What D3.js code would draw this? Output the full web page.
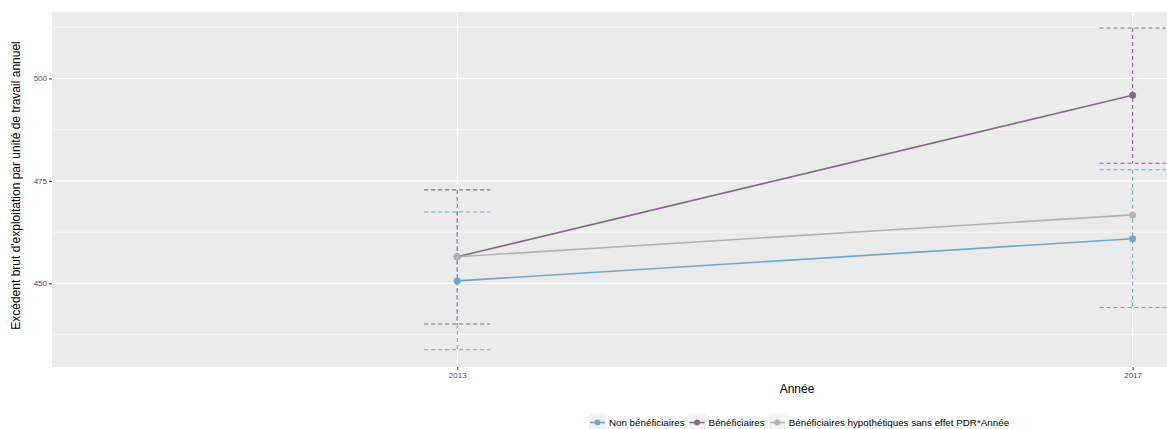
<!DOCTYPE html>
<html>
<head>
<meta charset="utf-8">
<script src="https://cdn.jsdelivr.net/npm/d3@7"></script>
<style>
  body { margin: 0; background: #fff; }
  text { font-family: "Liberation Sans", Arial, sans-serif; }
</style>
</head>
<body>
<svg id="chart" width="1167" height="429"></svg>
<script>
const years = [2013, 2017];
const seriesNames = ["Non bénéficiaires", "Bénéficiaires", "Bénéficiaires hypothétiques sans effet PDR*Année"];
const seriesColors = ["#6aa9d5", "#8c6790", "#b4b4b4"];
const nonBenef = [450.6, 460.9];
const benef = [456.5, 495.9];
const hypo = [456.5, 466.7];
// error bars (low, high) per year, for first two series
const nonBenefLow = [433.8, 444.1];
const nonBenefHigh = [467.4, 477.7];
const benefLow = [440.1, 479.3];
const benefHigh = [472.8, 512.3];
const yTicks = [450, 475, 500];
const yMinor = [437.5, 462.5, 487.5, 512.5];

const svg = d3.select("#chart");
const margin = { left: 52, top: 12, bottom: 62 };
const panelRight = 1167;
const H = 429;

const x = d3.scaleLinear().domain([2010.6, 2017.18]).range([margin.left, 1163]);
const y = d3.scaleLinear().domain([429.6, 516.2]).range([H - margin.bottom, margin.top]);

svg.append("rect")
  .attr("x", margin.left).attr("y", margin.top)
  .attr("width", panelRight - margin.left).attr("height", H - margin.bottom - margin.top)
  .attr("fill", "#ebebeb");

svg.append("clipPath").attr("id", "clip").append("rect")
  .attr("x", margin.left).attr("y", margin.top)
  .attr("width", panelRight - margin.left).attr("height", H - margin.bottom - margin.top);

const grid = svg.append("g");
grid.selectAll(".minor").data(yMinor).join("line")
  .attr("x1", margin.left).attr("x2", panelRight)
  .attr("y1", d => y(d)).attr("y2", d => y(d))
  .attr("stroke", "#fff").attr("stroke-width", 0.6);
grid.selectAll(".major").data(yTicks).join("line")
  .attr("x1", margin.left).attr("x2", panelRight)
  .attr("y1", d => y(d)).attr("y2", d => y(d))
  .attr("stroke", "#fff").attr("stroke-width", 1.2);
grid.selectAll(".vmajor").data(years).join("line")
  .attr("x1", d => x(d)).attr("x2", d => x(d))
  .attr("y1", margin.top).attr("y2", H - margin.bottom)
  .attr("stroke", "#fff").attr("stroke-width", 1.2);

// axes
const yAxis = svg.append("g")
  .attr("transform", `translate(${margin.left},0)`)
  .call(d3.axisLeft(y).tickValues(yTicks).tickSize(3).tickPadding(2));
yAxis.select(".domain").remove();
yAxis.selectAll("line").attr("stroke", "#333");
yAxis.selectAll("text").attr("fill", "#4d4d4d").attr("font-size", 8)
  .style("font-family", "Liberation Sans, Arial, sans-serif");

const xAxis = svg.append("g")
  .attr("transform", `translate(0,${H - margin.bottom})`)
  .call(d3.axisBottom(x).tickValues(years).tickFormat(d3.format("d")).tickSize(3).tickPadding(2));
xAxis.select(".domain").remove();
xAxis.selectAll("line").attr("stroke", "#333");
xAxis.selectAll("text").attr("fill", "#4d4d4d").attr("font-size", 8)
  .style("font-family", "Liberation Sans, Arial, sans-serif");

svg.append("text")
  .attr("transform", `translate(20,${(margin.top + H - margin.bottom) / 2 - 4}) rotate(-90)`)
  .attr("text-anchor", "middle").attr("font-size", 12).attr("fill", "#000")
  .text("Excédent brut d'exploitation par unité de travail annuel");

svg.append("text")
  .attr("x", 797).attr("y", 393)
  .attr("text-anchor", "middle").attr("font-size", 12).attr("fill", "#000")
  .text("Année");

const plot = svg.append("g").attr("clip-path", "url(#clip)");

// error bars
const errData = [
  { color: seriesColors[1], low: benefLow, high: benefHigh },
  { color: seriesColors[0], low: nonBenefLow, high: nonBenefHigh }
];
const halfW = 0.196;
errData.forEach(e => {
  years.forEach((yr, i) => {
    const g = plot.append("g")
      .attr("stroke", e.color).attr("stroke-width", 1.1)
      .attr("stroke-dasharray", "4,3").attr("fill", "none");
    g.append("line").attr("x1", x(yr - halfW)).attr("x2", x(yr + halfW))
      .attr("y1", y(e.high[i])).attr("y2", y(e.high[i]));
    g.append("line").attr("x1", x(yr - halfW)).attr("x2", x(yr + halfW))
      .attr("y1", y(e.low[i])).attr("y2", y(e.low[i]));
    g.append("line").attr("x1", x(yr)).attr("x2", x(yr))
      .attr("y1", y(e.high[i])).attr("y2", y(e.low[i]));
  });
});

const seriesVals = [nonBenef, benef, hypo];
const line = d3.line().x((d, i) => x(years[i])).y(d => y(d));
seriesVals.forEach((vals, k) => {
  plot.append("path").datum(vals)
    .attr("d", line).attr("fill", "none")
    .attr("stroke", seriesColors[k]).attr("stroke-width", 1.6);
  plot.selectAll(null).data(vals).join("circle")
    .attr("cx", (d, i) => x(years[i])).attr("cy", d => y(d))
    .attr("r", 3.5).attr("fill", seriesColors[k]);
});

// legend
const legend = svg.append("g").attr("transform", "translate(0,423)");
let cx = 0;
const items = [];
seriesNames.forEach((name, k) => {
  const g = legend.append("g");
  g.append("rect").attr("x", 0).attr("y", -9).attr("width", 17).attr("height", 17).attr("fill", "#f2f2f2");
  g.append("line").attr("x1", 1).attr("x2", 16).attr("y1", -0.5).attr("y2", -0.5)
    .attr("stroke", seriesColors[k]).attr("stroke-width", 1.6);
  g.append("circle").attr("cx", 8.5).attr("cy", -0.5).attr("r", 3).attr("fill", seriesColors[k]);
  const t = g.append("text").attr("x", 20).attr("y", 3).attr("font-size", 9.8).attr("fill", "#000").text(name);
  const w = 20 + t.node().getComputedTextLength();
  items.push({ g, pos: cx });
  cx += w + 4;
});
const total = cx - 4;
const start = 799 - total / 2;
items.forEach(it => it.g.attr("transform", `translate(${start + it.pos},0)`));
</script>
</body>
</html>
